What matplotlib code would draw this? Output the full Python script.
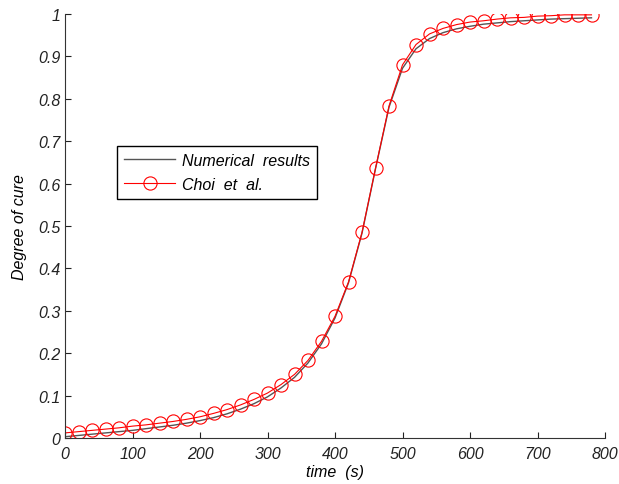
import numpy as np
import matplotlib
matplotlib.use('Agg')
import matplotlib.pyplot as plt

plt.rcParams['font.family'] = ['Liberation Sans', 'DejaVu Sans']

# time (s), sampled every 20 s
t = [0, 20, 40, 60, 80, 100, 120, 140, 160, 180, 200, 220, 240, 260, 280,
     300, 320, 340, 360, 380, 400, 420, 440, 460, 480, 500, 520, 540, 560,
     580, 600, 620, 640, 660, 680, 700, 720, 740, 760, 780]

numerical = [0.003, 0.006, 0.009, 0.012, 0.015, 0.018, 0.022, 0.026, 0.030,
             0.035, 0.041, 0.048, 0.057, 0.068, 0.081, 0.097, 0.118, 0.143,
             0.177, 0.222, 0.283, 0.366, 0.483, 0.635, 0.780, 0.872, 0.918,
             0.942, 0.956, 0.965, 0.971, 0.976, 0.979, 0.982, 0.984, 0.986,
             0.988, 0.989, 0.990, 0.991]

choi = [0.012, 0.015, 0.018, 0.021, 0.024, 0.028, 0.031, 0.035, 0.039,
        0.044, 0.050, 0.058, 0.067, 0.078, 0.091, 0.106, 0.126, 0.150,
        0.183, 0.228, 0.287, 0.368, 0.485, 0.636, 0.783, 0.880, 0.928,
        0.953, 0.966, 0.975, 0.981, 0.984, 0.988, 0.991, 0.992, 0.995,
        0.996, 0.998, 0.998, 0.998]

fig = plt.figure(figsize=(6.19, 4.85), dpi=100)
ax = fig.add_axes([65 / 619, 1 - 439 / 485, 540 / 619, 424 / 485])

ax.plot(t, numerical, color='#555555', lw=1.0, label='Numerical  results')
ax.plot(t, choi, color='red', lw=0.8, marker='o', ms=9.5, mfc='none',
        mec='red', mew=0.8, label='Choi  et  al.')

ax.set_xlim(0, 800)
ax.set_ylim(0, 1)
ax.set_xticks(np.arange(0, 801, 100))
ax.set_yticks(np.arange(0, 1.01, 0.1))
ax.set_yticklabels(['0', '0.1', '0.2', '0.3', '0.4', '0.5', '0.6', '0.7',
                    '0.8', '0.9', '1'])
for s in ['top', 'right']:
    ax.spines[s].set_visible(False)
for s in ['left', 'bottom']:
    ax.spines[s].set_color('#333333')
ax.tick_params(direction='in', length=4, labelsize=11.5, colors='#222222')
ax.tick_params(axis='x', pad=6)
for lab in ax.get_xticklabels() + ax.get_yticklabels():
    lab.set_style('italic')

ax.set_xlabel('time  (s)', fontsize=11.5, style='italic', labelpad=2)
ax.set_ylabel('Degree of cure', fontsize=11.5, style='italic', labelpad=8)

leg = ax.legend(loc='upper left', bbox_to_anchor=(0.096, 0.689),
                fontsize=11.5, fancybox=False, framealpha=1,
                edgecolor='black', borderpad=0.45, borderaxespad=0,
                handlelength=3.2, handletextpad=0.4, labelspacing=0.55)
for txt in leg.get_texts():
    txt.set_style('italic')
leg.get_frame().set_linewidth(1.0)

fig.savefig('out.png', dpi=100)
